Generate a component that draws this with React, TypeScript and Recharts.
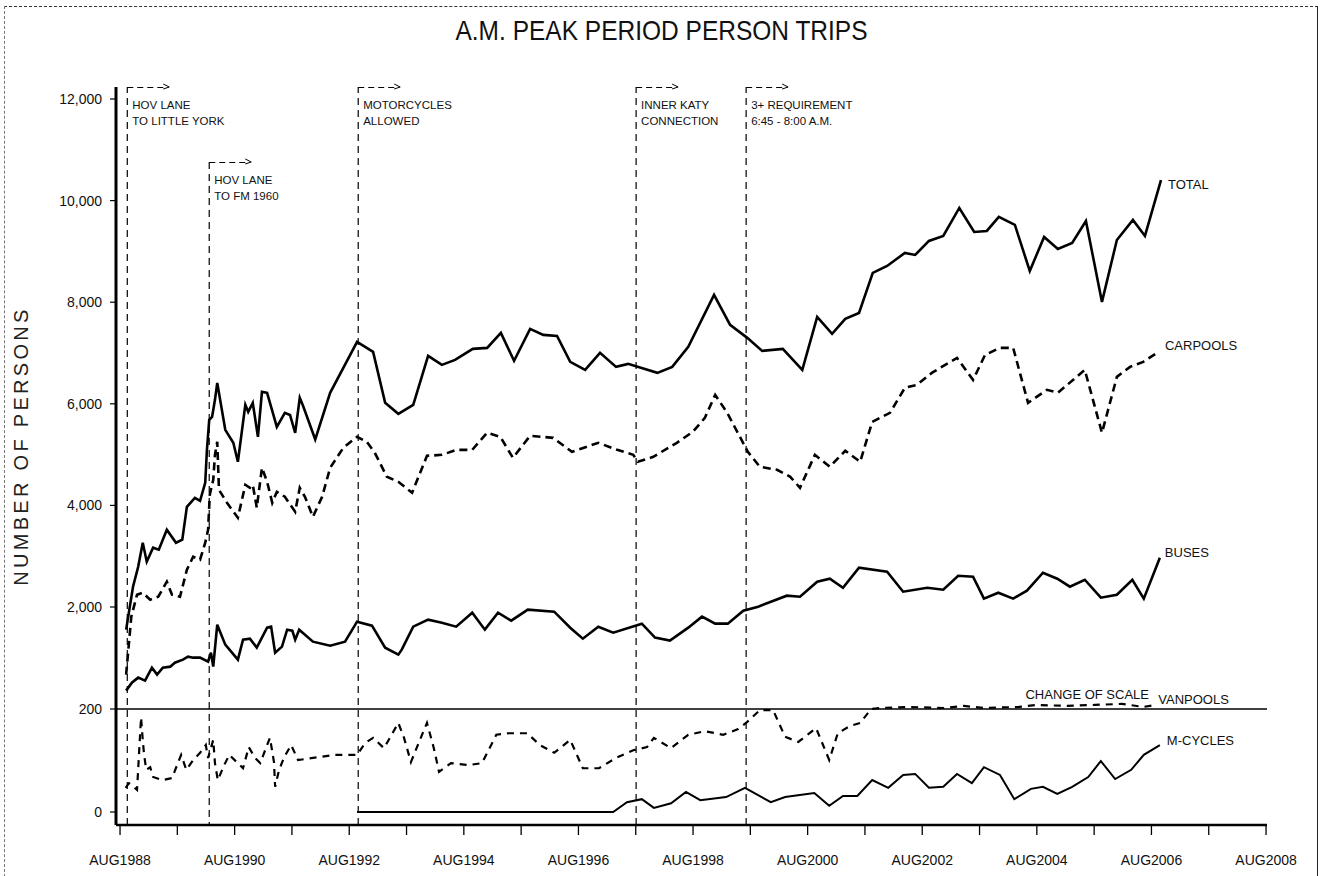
import React from 'react';
import { LineChart, Line, XAxis, YAxis, ReferenceLine, ReferenceDot } from 'recharts';

const FONT = '"Liberation Sans", Arial, Helvetica, sans-serif';

// ---------- data (x = decimal year, AUG = .583) ----------
const totalYears = [1988.69,1988.81,1988.90,1988.98,1989.05,1989.16,1989.26,1989.40,1989.56,1989.67,1989.75,1989.89,1989.98,1990.07,1990.10,1990.14,1990.19,1990.24,1990.28,1990.42,1990.56,1990.64,1990.77,1990.82,1990.90,1990.99,1991.06,1991.15,1991.32,1991.46,1991.55,1991.64,1991.72,1991.78,1991.99,1992.25,1992.72,1993.00,1993.21,1993.44,1993.70,1993.96,1994.20,1994.43,1994.74,1994.99,1995.23,1995.46,1995.74,1995.97,1996.21,1996.44,1996.70,1996.96,1997.24,1997.45,1997.96,1998.22,1998.50,1998.95,1999.23,1999.53,1999.79,2000.15,2000.49,2000.75,2001.01,2001.24,2001.48,2001.72,2001.97,2002.28,2002.46,2002.70,2002.95,2003.23,2003.49,2003.71,2003.92,2004.20,2004.46,2004.71,2004.95,2005.20,2005.44,2005.72,2005.98,2006.26,2006.47,2006.75];
const totalValues = [1554,2400,2793,3265,2892,3167,3128,3521,3265,3324,3973,4150,4091,4445,5094,5684,5743,6078,6412,5488,5232,4858,5980,5842,6019,5350,6235,6216,5547,5822,5780,5429,6117,5950,5300,6216,7219,7022,6019,5803,5980,6944,6766,6865,7081,7101,7396,6845,7475,7357,7337,6825,6668,7003,6727,6786,6609,6727,7121,8144,7553,7298,7042,7081,6668,7711,7376,7671,7789,8576,8714,8970,8930,9206,9304,9855,9383,9403,9678,9521,8615,9284,9048,9166,9599,8006,9225,9619,9304,10405];

const carpoolYears = [1988.69,1988.78,1988.88,1988.98,1989.11,1989.25,1989.40,1989.49,1989.63,1989.75,1989.86,1989.98,1990.07,1990.12,1990.15,1990.21,1990.24,1990.28,1990.31,1990.45,1990.64,1990.77,1990.85,1990.90,1990.97,1991.06,1991.15,1991.24,1991.32,1991.46,1991.64,1991.72,1991.81,1991.95,1992.11,1992.25,1992.48,1992.72,1992.89,1993.03,1993.24,1993.44,1993.68,1993.94,1994.20,1994.46,1994.73,1994.99,1995.22,1995.44,1995.74,1996.14,1996.47,1996.93,1997.26,1997.54,1997.62,1997.89,1998.30,1998.58,1998.79,1998.97,1999.18,1999.54,1999.75,2000.05,2000.28,2000.45,2000.71,2000.97,2001.24,2001.50,2001.71,2002.02,2002.28,2002.49,2002.75,2003.19,2003.47,2003.68,2003.94,2004.17,2004.43,2004.76,2004.95,2005.42,2005.72,2005.98,2006.21,2006.44,2006.68];
const carpoolValues = [669,1810,2242,2282,2144,2203,2498,2242,2203,2734,2990,2931,3265,3521,4209,4504,4996,5252,4307,4052,3757,4406,4347,4406,3954,4740,4465,4052,4268,4170,3875,4347,4170,3777,4170,4740,5134,5350,5252,5036,4563,4465,4249,4976,4996,5094,5094,5429,5350,4937,5370,5330,5055,5232,5094,4996,4858,4957,5232,5449,5724,6176,5822,5055,4760,4701,4563,4347,4996,4760,5075,4858,5645,5822,6314,6373,6609,6904,6471,6963,7101,7101,6019,6275,6216,6668,5429,6530,6727,6825,7003];

const busYears = [1988.69,1988.79,1988.90,1989.02,1989.14,1989.23,1989.33,1989.46,1989.54,1989.68,1989.77,1989.86,1989.98,1990.12,1990.17,1990.21,1990.28,1990.42,1990.64,1990.73,1990.85,1990.97,1991.15,1991.22,1991.29,1991.41,1991.50,1991.59,1991.64,1991.71,1991.95,1992.25,1992.51,1992.72,1992.98,1993.21,1993.44,1993.50,1993.70,1993.96,1994.20,1994.45,1994.73,1994.95,1995.18,1995.41,1995.70,1996.16,1996.44,1996.66,1996.93,1997.19,1997.69,1997.92,1998.18,1998.50,1998.74,1998.97,1999.19,1999.46,1999.72,2000.22,2000.45,2000.75,2000.97,2001.20,2001.48,2001.97,2002.25,2002.67,2002.95,2003.21,2003.47,2003.66,2003.91,2004.17,2004.41,2004.69,2004.94,2005.16,2005.42,2005.70,2005.98,2006.25,2006.45,2006.73];
const busValues = [354,511,610,551,806,669,806,826,904,964,1023,1003,1003,924,1101,826,1652,1259,964,1357,1377,1200,1593,1613,1101,1220,1554,1534,1357,1554,1318,1239,1318,1711,1633,1200,1062,1160,1613,1751,1692,1613,1888,1554,1888,1731,1947,1908,1593,1377,1613,1495,1672,1397,1338,1593,1810,1672,1672,1928,2006,2223,2203,2498,2557,2380,2774,2695,2301,2380,2341,2616,2596,2164,2282,2164,2321,2675,2557,2400,2537,2183,2242,2537,2164,2970];

const vanpoolYears = [1988.68,1988.74,1988.79,1988.88,1988.95,1988.98,1989.00,1989.04,1989.11,1989.16,1989.32,1989.49,1989.65,1989.74,1989.86,1989.98,1990.08,1990.12,1990.21,1990.24,1990.29,1990.40,1990.49,1990.73,1990.83,1990.94,1991.03,1991.15,1991.20,1991.27,1991.29,1991.36,1991.45,1991.57,1991.69,1991.95,1992.32,1992.72,1992.86,1993.00,1993.19,1993.44,1993.54,1993.66,1993.78,1993.94,1994.06,1994.15,1994.36,1994.66,1994.90,1995.15,1995.37,1995.69,1995.91,1996.16,1996.44,1996.66,1996.94,1997.24,1997.54,1997.78,1997.90,1998.20,1998.50,1998.79,1999.11,1999.37,1999.53,1999.75,1999.98,2000.19,2000.42,2000.73,2000.96,2001.11,2001.32,2001.50,2001.69,2001.86,2002.35,2002.95,2003.31,2003.66,2004.27,2004.57,2005.11,2005.60,2006.07,2006.44,2006.65];
const vanpoolValues = [47,56,52,43,184,140,115,82,87,68,62,66,111,82,101,115,130,105,140,95,62,91,111,85,126,105,95,130,144,97,49,82,107,130,101,105,111,111,134,144,124,173,144,97,130,173,124,78,95,91,95,150,153,153,130,115,140,85,85,105,120,126,144,124,150,157,150,161,175,198,198,146,136,163,101,153,167,173,200,202,204,202,206,202,204,208,206,208,210,204,208];

const mcycleYears = [1992.72,1997.19,1997.43,1997.69,1997.90,1998.20,1998.46,1998.71,1999.16,1999.49,1999.94,2000.19,2000.70,2000.96,2001.20,2001.45,2001.71,2001.99,2002.25,2002.46,2002.70,2002.95,2003.19,2003.45,2003.66,2003.94,2004.19,2004.48,2004.69,2004.94,2005.20,2005.48,2005.70,2005.95,2006.23,2006.45,2006.73];
const mcycleValues = [0,0,19,25,8,17,39,23,29,47,19,29,37,12,31,31,62,47,72,74,47,49,74,56,87,72,25,45,49,35,49,68,99,64,82,111,130];

// axis ticks / labels
const tickYears = [1988,1989,1990,1991,1992,1993,1994,1995,1996,1997,1998,1999,2000,2001,2002,2003,2004,2005,2006,2007,2008];
const tickLabels = ['AUG1988','','AUG1990','','AUG1992','','AUG1994','','AUG1996','','AUG1998','','AUG2000','','AUG2002','','AUG2004','','AUG2006','','AUG2008'];
const AUG = 7 / 12;
const xTicks = tickYears.map((y) => y + AUG);
const highTicks = [2000, 4000, 6000, 8000, 10000, 12000];
const lowTicks = [0, 200];

// events
const eventYears = [1988.71, 1990.14, 1992.74, 1997.59, 1999.51];
const eventTops: (number | null)[] = [null, 10760, null, null, null];
const eventText = [
  ['HOV LANE', 'TO LITTLE YORK'],
  ['HOV LANE', 'TO FM 1960'],
  ['MOTORCYCLES', 'ALLOWED'],
  ['INNER KATY', 'CONNECTION'],
  ['3+ REQUIREMENT', '6:45 - 8:00 A.M.'],
];

const X_DOMAIN: [number, number] = [1988.513, 2008.6];
const HIGH_DOMAIN: [number, number] = [-2291, 12236];
const LOW_DOMAIN: [number, number] = [-25.2, 1407.8];

const build = (xs: number[], vs: number[]) => xs.map((x, i) => ({ x, v: vs[i] }));
const totalData = build(totalYears, totalValues);
const carpoolData = build(carpoolYears, carpoolValues);
const busData = build(busYears, busValues);
const vanpoolData = build(vanpoolYears, vanpoolValues);
const mcycleData = build(mcycleYears, mcycleValues);

const INK = '#111';
const txt = { fill: INK, fontFamily: FONT } as const;

const eventLabel = (lines: string[]) => (p: any) => {
  const vb = p.viewBox || {};
  const x = vb.x;
  const y = vb.y;
  return (
    <g>
      <path d={`M${x},${y + 0.5} H${x + 40}`} stroke="#000" strokeWidth={1.2} strokeDasharray="6 4" fill="none" />
      <path d={`M${x + 36},${y - 3} L${x + 42},${y} L${x + 36},${y + 2}`} stroke="#000" strokeWidth={1} fill="none" />
      <text x={x + 5} y={y + 22} fontSize={11.5} {...txt}>{lines[0]}</text>
      <text x={x + 5} y={y + 38} fontSize={11.5} {...txt}>{lines[1]}</text>
    </g>
  );
};

const lowTickLabel = (label: string, withNote: boolean) => (p: any) => {
  const vb = p.viewBox || {};
  const x = vb.x;
  const y = vb.y;
  return (
    <g>
      <line x1={x - 6} x2={x} y1={y} y2={y} stroke="#000" strokeWidth={1.2} />
      <text x={x - 14} y={y} textAnchor="end" dominantBaseline="central" fontSize={14} {...txt}>{label}</text>
      {withNote ? (
        <text x={x + vb.width - 118} y={y - 10} textAnchor="end" fontSize={13} {...txt}>CHANGE OF SCALE</text>
      ) : null}
    </g>
  );
};

const endLabel = (name: string, dx: number, dy: number) => (p: any) => {
  const vb = p.viewBox || {};
  const cx = vb.x + (vb.width || 0) / 2;
  const cy = vb.y + (vb.height || 0) / 2;
  return <text x={cx + dx} y={cy + dy} fontSize={13} {...txt}>{name}</text>;
};

const yTitle = (p: any) => {
  const vb = p.viewBox || {};
  const cx = vb.x + 21;
  const cy = vb.y + vb.height / 2 - 10;
  return (
    <text x={cx} y={cy} transform={`rotate(-90 ${cx} ${cy})`} textAnchor="middle" dominantBaseline="central"
      fontSize={20} letterSpacing={3.3} fill="#222" fontFamily={FONT}>NUMBER OF PERSONS</text>
  );
};

const last = (a: number[]) => a[a.length - 1];

export default function App() {
  return (
    <div style={{ position: 'absolute', left: 0, top: 0, width: 1323, height: 876, background: '#fff', overflow: 'hidden', fontFamily: FONT }}>
      <div style={{ position: 'absolute', left: 4, top: 6, width: 1312, height: 900, borderTop: '1px dashed #333', borderLeft: '1px dashed #777', borderRight: '1.5px solid #222' }} />
      <div style={{ position: 'absolute', left: 0, top: 20, width: 1323, textAlign: 'center', fontSize: 24.5, lineHeight: '24px', color: INK, transform: 'scaleY(1.15)', transformOrigin: '50% 90%' }}>
        A.M. PEAK PERIOD PERSON TRIPS
      </div>
      <div style={{ position: 'absolute', left: 0, top: 0 }}>
        <LineChart width={1323} height={876} margin={{ top: 87, right: 56, bottom: 11, left: 0 }}>
          <XAxis type="number" dataKey="x" domain={X_DOMAIN} allowDataOverflow ticks={xTicks} interval={0}
            tickFormatter={(v: number) => tickLabels[tickYears.indexOf(Math.round(v - AUG))] || ''}
            height={40} axisLine={{ stroke: '#000', strokeWidth: 2.5 }} tickLine={{ stroke: '#000', strokeWidth: 1.3 }}
            tickSize={10} tickMargin={20} tick={{ fontSize: 14, fill: INK, fontFamily: FONT }} />
          <YAxis yAxisId="high" type="number" domain={HIGH_DOMAIN} allowDataOverflow ticks={highTicks} interval={0}
            tickFormatter={(v: number) => v.toLocaleString('en-US')} width={116}
            axisLine={{ stroke: '#000', strokeWidth: 3 }} tickLine={{ stroke: '#000', strokeWidth: 1.2 }}
            tickSize={6} tickMargin={8} tick={{ fontSize: 14, fill: INK, fontFamily: FONT }} label={yTitle} />
          <YAxis yAxisId="low" type="number" domain={LOW_DOMAIN} allowDataOverflow hide />

          {eventYears.map((ex, i) => (
            eventTops[i] === null ? (
              <ReferenceLine key={`ev${i}`} yAxisId="high" x={ex} stroke="#000" strokeWidth={1.2} strokeDasharray="7 5"
                label={eventLabel(eventText[i])} />
            ) : (
              <ReferenceLine key={`ev${i}`} yAxisId="high" stroke="#000" strokeWidth={1.2} strokeDasharray="7 5"
                segment={[{ x: ex, y: eventTops[i] as number }, { x: ex, y: HIGH_DOMAIN[0] }]}
                label={eventLabel(eventText[i])} />
            )
          ))}

          <ReferenceLine yAxisId="low" y={lowTicks[1]} stroke="#000" strokeWidth={1.3} label={lowTickLabel(String(lowTicks[1]), true)} />
          <ReferenceLine yAxisId="low" y={lowTicks[0]} stroke="#000" strokeOpacity={0} label={lowTickLabel(String(lowTicks[0]), false)} />

          <Line yAxisId="high" data={totalData} dataKey="v" type="linear" stroke="#000" strokeWidth={2.6} dot={false} activeDot={false} isAnimationActive={false} />
          <Line yAxisId="high" data={carpoolData} dataKey="v" type="linear" stroke="#000" strokeWidth={2.6} strokeDasharray="8 5" dot={false} activeDot={false} isAnimationActive={false} />
          <Line yAxisId="high" data={busData} dataKey="v" type="linear" stroke="#000" strokeWidth={2.6} dot={false} activeDot={false} isAnimationActive={false} />
          <Line yAxisId="low" data={vanpoolData} dataKey="v" type="linear" stroke="#000" strokeWidth={2.2} strokeDasharray="7 6" dot={false} activeDot={false} isAnimationActive={false} />
          <Line yAxisId="low" data={mcycleData} dataKey="v" type="linear" stroke="#000" strokeWidth={2} dot={false} activeDot={false} isAnimationActive={false} />

          <ReferenceDot yAxisId="high" x={last(totalYears)} y={last(totalValues)} r={1} fill="none" stroke="none" label={endLabel('TOTAL', 7, 9)} />
          <ReferenceDot yAxisId="high" x={last(carpoolYears)} y={last(carpoolValues)} r={1} fill="none" stroke="none" label={endLabel('CARPOOLS', 8, -3)} />
          <ReferenceDot yAxisId="high" x={last(busYears)} y={last(busValues)} r={1} fill="none" stroke="none" label={endLabel('BUSES', 5, -1)} />
          <ReferenceDot yAxisId="low" x={last(vanpoolYears)} y={last(vanpoolValues)} r={1} fill="none" stroke="none" label={endLabel('VANPOOLS', 3, -1)} />
          <ReferenceDot yAxisId="low" x={last(mcycleYears)} y={last(mcycleValues)} r={1} fill="none" stroke="none" label={endLabel('M-CYCLES', 7, 0)} />
        </LineChart>
      </div>
    </div>
  );
}
